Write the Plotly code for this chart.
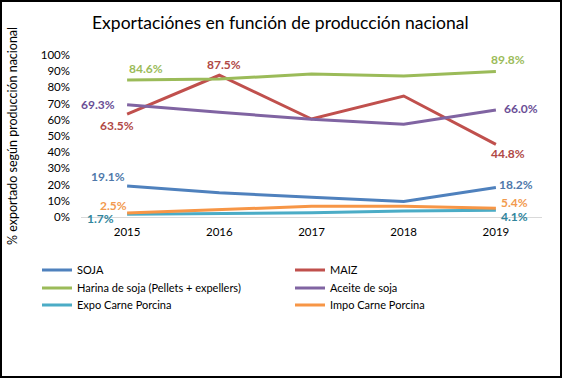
import plotly.graph_objects as go

years = ["2015", "2016", "2017", "2018", "2019"]
series_names = ["SOJA", "MAIZ", "Harina de soja (Pellets + expellers)", "Aceite de soja",
                "Expo Carne Porcina", "Impo Carne Porcina"]
soja = [19.1, 15.0, 12.2, 9.6, 18.2]
maiz = [63.5, 87.5, 60.5, 74.7, 44.8]
harina = [84.6, 85.2, 88.2, 87.0, 89.8]
aceite = [69.3, 64.6, 60.4, 57.2, 66.0]
expo = [1.7, 2.0, 2.6, 3.7, 4.1]
impo = [2.5, 4.6, 6.6, 6.6, 5.4]
y_ticks = [0, 10, 20, 30, 40, 50, 60, 70, 80, 90, 100]
y_tick_labels = [f"{v}%" for v in y_ticks]

values = [soja, maiz, harina, aceite, expo, impo]
colors = ["#4F81BD", "#C0504D", "#9BBB59", "#8064A2", "#4BACC6", "#F79646"]
label_colors = ["#4F78AA", "#B04845", "#9BBB59", "#6A4E96", "#31859C", "#F29A4E"]

# legend slot positions in pixels (x of legend box, y centre of row)
legend_slots = [(37, 270), (290, 270), (37, 288), (290, 288), (37, 305), (290, 305)]

# label offsets (xshift, yshift) in pixels for labelled points: (series index, point index)
label_offsets = {
    (0, 0): (-19, 10), (0, 4): (20, 3),
    (1, 0): (-10, -11), (1, 1): (5, 11), (1, 4): (12, -9),
    (2, 0): (19, 11), (2, 4): (12, 12),
    (3, 0): (-29, 0), (3, 4): (25, 2),
    (4, 0): (-27, -4), (4, 4): (19, -6),
    (5, 0): (-14, 7), (5, 4): (19, 6),
}

FONT = "Lato"
W, H = 562, 378
ml, mr, mt, mb = 81, 20, 55, 161
pw, ph = W - ml - mr, H - mt - mb


def px_x(x):
    return (x - ml) / pw


def px_y(y):
    return (H - mb - y) / ph


fig = go.Figure()
legend_layout = {}
for i, (name, vals, col) in enumerate(zip(series_names, values, colors)):
    lid = "legend" if i == 0 else f"legend{i + 1}"
    fig.add_trace(go.Scatter(x=years, y=vals, mode="lines", name=name, legend=lid,
                             line=dict(color=col, width=3), hoverinfo="skip"))
    lx, ly = legend_slots[i]
    legend_layout[lid] = dict(x=px_x(lx), y=px_y(ly), xanchor="left", yanchor="middle",
                              orientation="v", itemwidth=30,
                              font=dict(family=FONT, size=11, color="#000000"),
                              bgcolor="rgba(0,0,0,0)", borderwidth=0)

annotations = []
for (si, pi), (dx, dy) in label_offsets.items():
    v = values[si][pi]
    annotations.append(dict(x=pi, y=v, text=f"<b>{v:.1f}%</b>", showarrow=False,
                            xshift=dx, yshift=dy, xref="x", yref="y",
                            font=dict(family=FONT, size=12, color=label_colors[si])))

annotations.append(dict(text="Exportaciónes en función de producción nacional",
                        x=px_x(280), y=px_y(22), xref="paper", yref="paper", showarrow=False,
                        xanchor="center", yanchor="middle",
                        font=dict(family=FONT, size=17.5, color="#000000")))

fig.update_layout(
    width=W, height=H,
    margin=dict(l=ml, r=mr, t=mt, b=mb, autoexpand=False),
    paper_bgcolor="white", plot_bgcolor="white",
    font=dict(family=FONT, size=11, color="#000000"),
    showlegend=True,
    xaxis=dict(type="category", showgrid=False, showline=False, zeroline=False,
               ticks="", ticklabelstandoff=6, tickfont=dict(family=FONT, size=11.5),
               range=[-0.5, 4.5]),
    yaxis=dict(range=[0, 100], tickvals=y_ticks, ticktext=y_tick_labels, showgrid=False,
               showline=False, zeroline=True, zerolinecolor="#D9D9D9", zerolinewidth=1,
               ticks="", ticklabelstandoff=10, tickfont=dict(family=FONT, size=11.5),
               title=dict(text="% exportado según producción nacional",
                          font=dict(family=FONT, size=12.5), standoff=20)),
    annotations=annotations,
    shapes=[dict(type="rect", xref="paper", yref="paper",
                 x0=px_x(1), x1=px_x(W - 1), y0=px_y(H - 1), y1=px_y(1),
                 line=dict(color="#000000", width=2), fillcolor="rgba(0,0,0,0)")],
)
fig.update_layout(**legend_layout)

fig.write_html("out.html", config={"displayModeBar": False},
               post_script="document.body.style.margin='0';")
